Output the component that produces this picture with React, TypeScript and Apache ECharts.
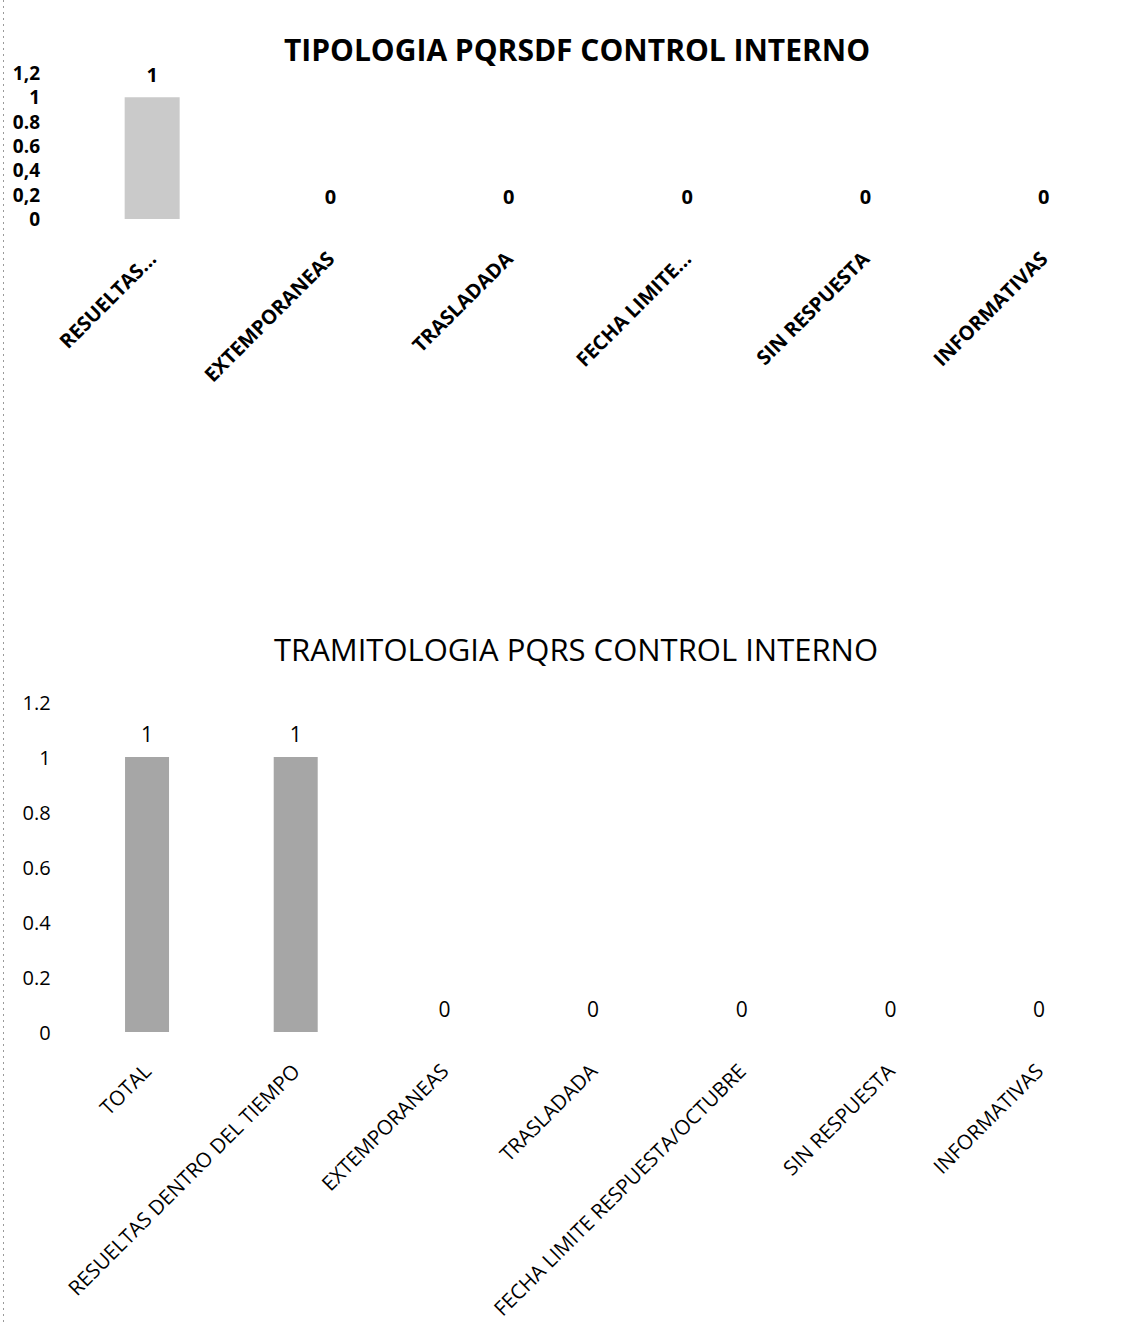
import React, { useEffect, useRef } from "react";
import * as echarts from "echarts";

const title1 = "TIPOLOGIA PQRSDF CONTROL INTERNO";
const categories1 = ["RESUELTAS...", "EXTEMPORANEAS", "TRASLADADA", "FECHA LIMITE...", "SIN RESPUESTA", "INFORMATIVAS"];
const values1 = [1, 0, 0, 0, 0, 0];
const tickLabels1 = ["0", "0,2", "0,4", "0.6", "0.8", "1", "1,2"];

const title2 = "TRAMITOLOGIA PQRS CONTROL INTERNO";
const categories2 = [
  "TOTAL",
  "RESUELTAS DENTRO DEL TIEMPO",
  "EXTEMPORANEAS",
  "TRASLADADA",
  "FECHA LIMITE RESPUESTA/OCTUBRE",
  "SIN RESPUESTA",
  "INFORMATIVAS",
];
const values2 = [1, 1, 0, 0, 0, 0, 0];
const tickLabels2 = ["0", "0.2", "0.4", "0.6", "0.8", "1", "1.2"];

const FONT = "'Open Sans', 'Noto Sans', sans-serif";

export default function App() {
  const ref = useRef<HTMLDivElement>(null);
  useEffect(() => {
    if (!ref.current) return;
    const chart = echarts.init(ref.current, undefined, { renderer: "svg" });
    const tickFmt = (ticks: string[]) => (v: number) => {
      const i = Math.round(v / 0.2);
      return ticks[i] ?? "";
    };
    const xAxisCommon = {
      type: "category" as const,
      axisLine: { show: false },
      axisTick: { show: false },
      splitLine: { show: false },
    };
    const yAxisCommon = {
      type: "value" as const,
      min: 0,
      max: 1.2,
      interval: 0.2,
      axisLine: { show: false },
      axisTick: { show: false },
      splitLine: { show: false },
    };
    chart.setOption({
      animation: false,
      backgroundColor: "#ffffff",
      graphic: [
        {
          type: "text",
          x: 577,
          y: 49,
          style: {
            text: title1,
            font: `bold 30px ${FONT}`,
            fill: "#000",
            textAlign: "center",
            textVerticalAlign: "middle",
          },
        },
        {
          type: "text",
          x: 576,
          y: 649,
          style: {
            text: title2,
            font: `31px ${FONT}`,
            fill: "#000",
            textAlign: "center",
            textVerticalAlign: "middle",
          },
        },
        {
          type: "line",
          shape: { x1: 3.5, y1: 0, x2: 3.5, y2: 1324 },
          style: { stroke: "#9a9a9a", lineWidth: 1, lineDash: [2, 4] },
        },
      ],
      grid: [
        { left: 63, width: 1080, top: 73, height: 146 },
        { left: 72.7, width: 1040.7, top: 702, height: 330 },
      ],
      xAxis: [
        {
          ...xAxisCommon,
          gridIndex: 0,
          data: categories1,
          axisLabel: {
            interval: 0,
            rotate: 45,
            margin: 36,
            color: "#000",
            fontFamily: FONT,
            fontWeight: "bold",
            fontSize: 20,
          },
        },
        {
          ...xAxisCommon,
          gridIndex: 1,
          data: categories2,
          axisLabel: {
            interval: 0,
            rotate: 45,
            margin: 35,
            color: "#000",
            fontFamily: FONT,
            fontSize: 20.5,
          },
        },
      ],
      yAxis: [
        {
          ...yAxisCommon,
          gridIndex: 0,
          axisLabel: {
            margin: 23,
            color: "#000",
            fontFamily: FONT,
            fontWeight: "bold",
            fontSize: 19,
            lineHeight: 21,
            formatter: tickFmt(tickLabels1),
          },
        },
        {
          ...yAxisCommon,
          gridIndex: 1,
          axisLabel: {
            margin: 22,
            color: "#000",
            fontFamily: FONT,
            fontSize: 20,
            formatter: tickFmt(tickLabels2),
          },
        },
      ],
      series: [
        {
          type: "bar",
          xAxisIndex: 0,
          yAxisIndex: 0,
          data: values1,
          barWidth: 55,
          itemStyle: { color: "#cacaca" },
          label: {
            show: true,
            position: "top",
            distance: 13,
            color: "#000",
            fontFamily: FONT,
            fontWeight: "bold",
            fontSize: 20,
          },
        },
        {
          type: "bar",
          xAxisIndex: 1,
          yAxisIndex: 1,
          data: values2,
          barWidth: 44,
          itemStyle: { color: "#a6a6a6" },
          label: {
            show: true,
            position: "top",
            distance: 13,
            color: "#000",
            fontFamily: FONT,
            fontSize: 21,
          },
        },
      ],
    });
    return () => chart.dispose();
  }, []);
  return (
    <div
      ref={ref}
      style={{ position: "absolute", left: 0, top: 0, width: 1133, height: 1324 }}
    />
  );
}
